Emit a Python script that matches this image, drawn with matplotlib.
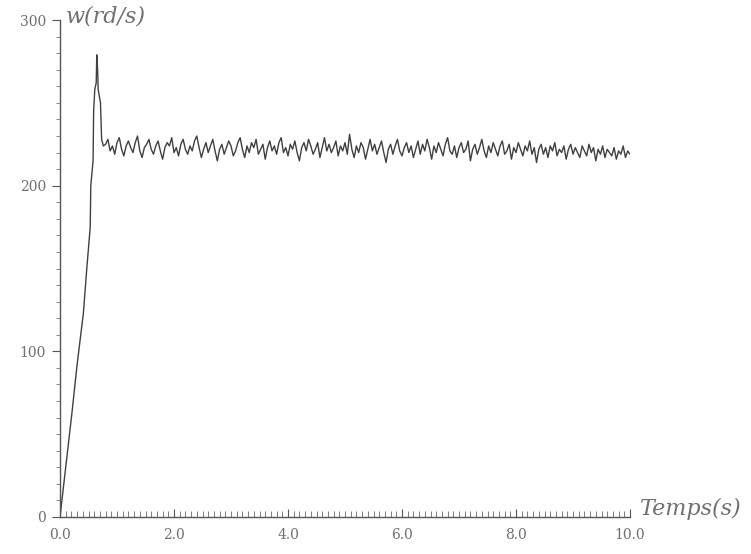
import numpy as np
import matplotlib.pyplot as plt
from matplotlib.ticker import MultipleLocator

# montee + depassement
t_rise = [0.0, 0.10, 0.21, 0.30, 0.41, 0.47, 0.53, 0.54, 0.58, 0.59, 0.61,
          0.635, 0.645, 0.66, 0.67, 0.71, 0.73, 0.76]
w_rise = [0, 30, 63, 92, 123, 150, 175, 200, 215, 245, 258,
          262, 279, 270, 258, 250, 228, 224]

# regime permanent bruite, un point tous les 0.04 s de 0.80 a 10.0 s
t0_noise = 0.80
dt_noise = 0.04
w_noise = [
    225, 228, 221, 224, 219, 226, 229, 222, 218, 224,
    227, 223, 220, 226, 230, 221, 217, 223, 225, 228,
    222, 219, 224, 227, 221, 216, 223, 226, 224, 229,
    220, 223, 218, 225, 228, 222, 219, 224, 221, 227,
    230, 223, 217, 222, 226, 220, 224, 228, 221, 215,
    222, 225, 219, 223, 227, 224, 218, 221, 226, 229,
    222, 217, 224, 220, 226, 223, 228, 219, 222, 225,
    216, 223, 227, 221, 224, 219, 226, 229, 220, 223,
    218, 225, 222, 227, 220, 215, 223, 226, 221, 228,
    224, 219, 222, 226, 217, 223, 229, 221, 225, 220,
    223, 227, 218, 224, 221, 226, 219, 231, 222, 217,
    224, 220, 226, 223, 216, 222, 228, 221, 225, 219,
    223, 227, 220, 214, 222, 225, 219, 224, 228, 221,
    218, 223, 226, 220, 224, 217, 222, 227, 219, 225,
    221, 228, 223, 216, 224, 220, 226, 222, 218, 225,
    229, 221, 219, 224, 217, 223, 226, 220, 222, 227,
    215, 222, 225, 219, 223, 228, 221, 217, 224, 220,
    226, 222, 218, 224, 227, 219, 221, 225, 216, 223,
    220, 226, 222, 218, 224, 221, 227, 219, 223, 214,
    222, 225, 219, 223, 217, 224, 221, 226, 218, 222,
    220, 224, 216, 222, 225, 219, 223, 220, 217, 224,
    221, 218, 225, 220, 223, 215, 222, 219, 224, 217,
    222, 220, 218, 223, 216, 221, 219, 224, 217, 221,
    219,
]

x_ticks = [0, 2, 4, 6, 8, 10]
x_labels = ['0.0', '2.0', '4.0', '6.0', '8.0', '10.0']
y_ticks = [0, 100, 200, 300]

t_noise = t0_noise + dt_noise * np.arange(len(w_noise))
t = np.concatenate([t_rise, t_noise])
w = np.concatenate([w_rise, w_noise])

txt_col = '#707070'
plt.rcParams['font.family'] = ['DejaVu Serif']

fig = plt.figure(figsize=(7.51, 5.54), dpi=100)
ax = fig.add_axes([0.0799, 0.0668, 0.759, 0.897])

ax.plot(t, w, color='#404040', linewidth=1.0)

ax.set_xlim(0, 10.0)
ax.set_ylim(0, 300)
for s in ['top', 'right']:
    ax.spines[s].set_visible(False)
for s in ['left', 'bottom']:
    ax.spines[s].set_color('#555555')
    ax.spines[s].set_linewidth(1.0)

ax.set_xticks(x_ticks)
ax.set_xticklabels(x_labels)
ax.xaxis.set_minor_locator(MultipleLocator(0.1))
ax.tick_params(axis='x', which='major', direction='in', length=6, width=0.8,
               colors='#555555', labelcolor=txt_col, labelsize=10, pad=8)
ax.tick_params(axis='x', which='minor', direction='in', length=4, width=0.6,
               colors='#666666')

ax.set_yticks(y_ticks)
ax.yaxis.set_minor_locator(MultipleLocator(10))
ax.tick_params(axis='y', which='major', direction='out', length=6, width=0.8,
               colors='#555555', labelcolor=txt_col, labelsize=10, pad=4)
ax.tick_params(axis='y', which='minor', direction='out', length=3, width=0.6,
               colors='#777777')

ax.text(0.1, 302, 'w(rd/s)', color=txt_col, fontsize=16, fontstyle='italic',
        va='center', ha='left', clip_on=False)
ax.text(10.18, 5, 'Temps(s)', color=txt_col, fontsize=16, fontstyle='italic',
        va='center', ha='left', clip_on=False)

fig.savefig('out.png', dpi=100, facecolor='white')
